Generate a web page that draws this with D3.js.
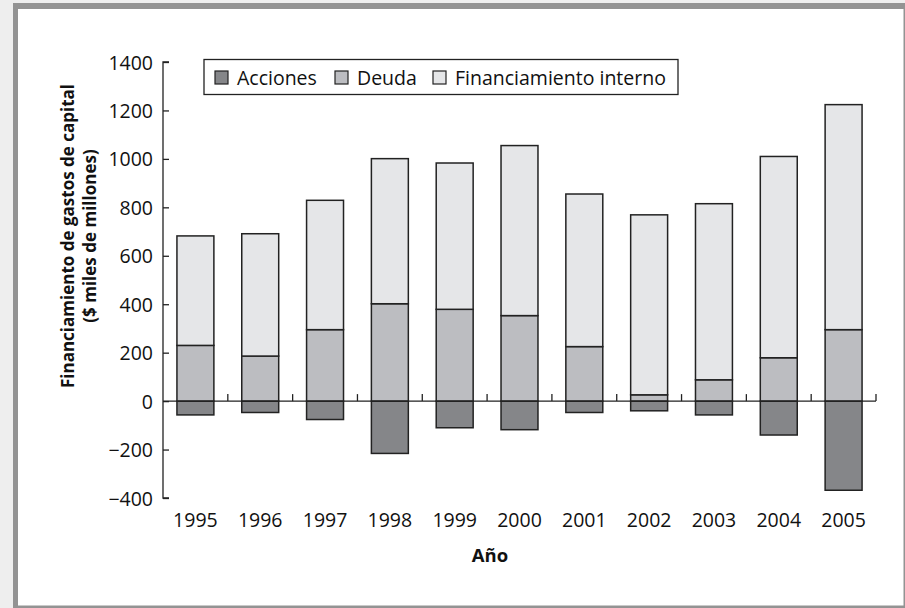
<!DOCTYPE html>
<html><head><meta charset="utf-8">
<script src="https://cdn.jsdelivr.net/npm/d3@7"></script>
<style>html,body{margin:0;padding:0;background:#eeeeee;}svg{display:block;}</style>
</head><body>
<svg id="c" width="905" height="608"></svg>
<script>
const years = ["1995","1996","1997","1998","1999","2000","2001","2002","2003","2004","2005"];
const acciones = [-57,-47,-76,-216,-110,-118,-47,-40,-57,-140,-368];
const deuda = [230,186,295,402,379,353,225,26,88,179,295];
const interno = [452,505,534,599,604,702,630,743,727,831,929];
const seriesNames = ["Acciones","Deuda","Financiamiento interno"];
const yTicks = [-400,-200,0,200,400,600,800,1000,1200,1400];

const colors = {"Acciones":"#858689","Deuda":"#bcbdc1","Financiamiento interno":"#e5e6e8"};
const font = "'Open Sans', sans-serif";
const svg = d3.select("#c");

// frame
svg.append("rect").attr("x",0).attr("y",0).attr("width",905).attr("height",608).attr("fill","#eeeeee");
svg.append("rect").attr("x",13).attr("y",3).attr("width",892).attr("height",605).attr("fill","#939393");
svg.append("rect").attr("x",18).attr("y",9).attr("width",885.5).attr("height",596.5).attr("fill","#ffffff");

const x0 = 163, x1 = 876;
const x = d3.scaleBand().domain(years).range([x0,x1]).paddingInner(0.43).paddingOuter(0.215);
const y = d3.scaleLinear().domain([-400,1400]).range([498,62]);

const data = years.map((yr,i)=>({yr, a:acciones[i], d:deuda[i], f:interno[i]}));
const g = svg.append("g");
const segs = [];
data.forEach(d=>{
  segs.push({yr:d.yr, s:"Acciones", y0:d.a, y1:0});
  segs.push({yr:d.yr, s:"Deuda", y0:0, y1:d.d});
  segs.push({yr:d.yr, s:"Financiamiento interno", y0:d.d, y1:d.d+d.f});
});
g.selectAll("rect").data(segs).join("rect")
  .attr("x",d=>x(d.yr)).attr("width",x.bandwidth())
  .attr("y",d=>y(Math.max(d.y0,d.y1))).attr("height",d=>Math.abs(y(d.y0)-y(d.y1)))
  .attr("fill",d=>colors[d.s]).attr("stroke","#222").attr("stroke-width",1.5);

// y axis
const yAxis = d3.axisRight(y).tickValues(yTicks).tickSize(6).tickFormat(d3.format("d"));
const ya = svg.append("g").attr("transform",`translate(${x0},0)`).call(yAxis);
ya.select(".domain").attr("stroke","#222").attr("stroke-width",1.3).attr("d",`M6,${y(-400)}H0V${y(1400)}H6`);
ya.selectAll(".tick line").attr("stroke","#222").attr("stroke-width",1.3);
ya.selectAll(".tick text").attr("x",-10).attr("dy","0.36em").attr("text-anchor","end").attr("font-family",font).attr("font-size",19.5).attr("fill","#111");

// x axis at zero
const boundaries = years.map((yr,i)=>x0 + (i+1)*(x1-x0)/years.length);
const xa = svg.append("g");
xa.append("line").attr("x1",x0).attr("x2",x1).attr("y1",y(0)).attr("y2",y(0)).attr("stroke","#222").attr("stroke-width",1.3);
xa.selectAll("line.t").data(boundaries).join("line").attr("class","t")
  .attr("x1",d=>d).attr("x2",d=>d).attr("y1",y(0)).attr("y2",y(0)-7).attr("stroke","#222").attr("stroke-width",1.3);
svg.append("g").selectAll("text").data(years).join("text")
  .attr("x",d=>x(d)+x.bandwidth()/2).attr("y",527).attr("text-anchor","middle")
  .attr("font-family",font).attr("font-size",19.5).attr("fill","#111").text(d=>d);

// axis titles
svg.append("text").attr("x",490).attr("y",562).attr("text-anchor","middle")
  .attr("font-family",font).attr("font-size",18.5).attr("font-weight","bold").attr("fill","#111").text("Año");
const yt = svg.append("text").attr("font-family",font).attr("font-size",17)
  .attr("font-weight","bold").attr("fill","#111").attr("text-anchor","middle").attr("transform","rotate(-90)");
yt.append("tspan").attr("x",-236).attr("y",74).text("Financiamiento de gastos de capital");
yt.append("tspan").attr("x",-236).attr("y",96).text("($ miles de millones)");

// legend
const lg = svg.append("g");
lg.append("rect").attr("x",204).attr("y",59.5).attr("width",474).attr("height",35).attr("fill","#fff").attr("stroke","#222").attr("stroke-width",1.3);
const lx = [215,335,433];
seriesNames.forEach((s,i)=>{
  lg.append("rect").attr("x",lx[i]).attr("y",71).attr("width",13).attr("height",13)
    .attr("fill",colors[s]).attr("stroke","#222").attr("stroke-width",1.2);
  lg.append("text").attr("x",lx[i]+22).attr("y",85).attr("font-family",font).attr("font-size",19.5).attr("fill","#111").text(s);
});
</script>
</body></html>
